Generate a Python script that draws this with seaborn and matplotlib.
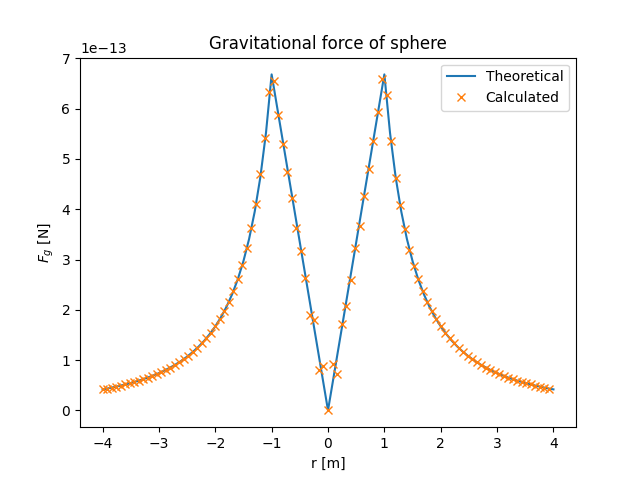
import numpy as np
import matplotlib
matplotlib.use("Agg")
import matplotlib.pyplot as plt
import seaborn as sns

# Theoretical curve (values in units of 1e-13 N)
r_theory = [-4.0, -3.9, -3.8, -3.7, -3.6, -3.5, -3.4, -3.3, -3.2, -3.1,
            -3.0, -2.9, -2.8, -2.7, -2.6, -2.5, -2.4, -2.3, -2.2, -2.1,
            -2.0, -1.9, -1.8, -1.7, -1.6, -1.5, -1.4, -1.3, -1.2, -1.1,
            -1.0, -0.9, -0.8, -0.7, -0.6, -0.5, -0.4, -0.3, -0.2, -0.1,
            0.0, 0.1, 0.2, 0.3, 0.4, 0.5, 0.6, 0.7, 0.8, 0.9,
            1.0, 1.1, 1.2, 1.3, 1.4, 1.5, 1.6, 1.7, 1.8, 1.9,
            2.0, 2.1, 2.2, 2.3, 2.4, 2.5, 2.6, 2.7, 2.8, 2.9,
            3.0, 3.1, 3.2, 3.3, 3.4, 3.5, 3.6, 3.7, 3.8, 3.9, 4.0]
F_theory = [0.418, 0.439, 0.463, 0.488, 0.515, 0.545, 0.578, 0.613, 0.652, 0.695,
            0.742, 0.794, 0.852, 0.916, 0.988, 1.069, 1.160, 1.263, 1.380, 1.515,
            1.670, 1.850, 2.062, 2.311, 2.609, 2.969, 3.408, 3.953, 4.639, 5.521,
            6.680, 6.012, 5.344, 4.676, 4.008, 3.340, 2.672, 2.004, 1.336, 0.668,
            0.0, 0.668, 1.336, 2.004, 2.672, 3.340, 4.008, 4.676, 5.344, 6.012,
            6.680, 5.521, 4.639, 3.953, 3.408, 2.969, 2.609, 2.311, 2.062, 1.850,
            1.670, 1.515, 1.380, 1.263, 1.160, 1.069, 0.988, 0.916, 0.852, 0.794,
            0.742, 0.695, 0.652, 0.613, 0.578, 0.545, 0.515, 0.488, 0.463, 0.439, 0.418]

# Calculated points (values in units of 1e-13 N)
r_calc = [-4.00, -3.92, -3.84, -3.76, -3.68, -3.60, -3.52, -3.44, -3.36, -3.28,
          -3.20, -3.12, -3.04, -2.96, -2.88, -2.80, -2.72, -2.64, -2.56, -2.48,
          -2.40, -2.32, -2.24, -2.16, -2.08, -2.00, -1.92, -1.84, -1.76, -1.68,
          -1.60, -1.52, -1.44, -1.36, -1.28, -1.20, -1.12, -1.04, -0.96, -0.88,
          -0.80, -0.72, -0.64, -0.56, -0.48, -0.40, -0.32, -0.24, -0.16, -0.08,
          0.00, 0.08, 0.16, 0.24, 0.32, 0.40, 0.48, 0.56, 0.64, 0.72,
          0.80, 0.88, 0.96, 1.04, 1.12, 1.20, 1.28, 1.36, 1.44, 1.52,
          1.60, 1.68, 1.76, 1.84, 1.92, 2.00, 2.08, 2.16, 2.24, 2.32,
          2.40, 2.48, 2.56, 2.64, 2.72, 2.80, 2.88, 2.96, 3.04, 3.12,
          3.20, 3.28, 3.36, 3.44, 3.52, 3.60, 3.68, 3.76, 3.84, 3.92]
F_calc = [0.418, 0.435, 0.453, 0.473, 0.493, 0.515, 0.539, 0.564, 0.592, 0.621,
          0.652, 0.686, 0.723, 0.762, 0.805, 0.852, 0.903, 0.958, 1.019, 1.086,
          1.160, 1.241, 1.331, 1.432, 1.544, 1.670, 1.812, 1.973, 2.157, 2.367,
          2.609, 2.90, 3.23, 3.63, 4.11, 4.69, 5.42, 6.33, 6.54, 5.88,
          5.30, 4.73, 4.23, 3.63, 3.16, 2.64, 1.90, 1.80, 0.81, 0.89,
          0.00, 0.93, 0.73, 1.72, 2.08, 2.60, 3.23, 3.67, 4.27, 4.79,
          5.35, 5.94, 6.58, 6.28, 5.35, 4.63, 4.08, 3.60, 3.19, 2.88,
          2.609, 2.367, 2.157, 1.973, 1.812, 1.670, 1.544, 1.432, 1.331, 1.241,
          1.160, 1.086, 1.019, 0.958, 0.903, 0.852, 0.805, 0.762, 0.723, 0.686,
          0.652, 0.621, 0.592, 0.564, 0.539, 0.515, 0.493, 0.473, 0.453, 0.435]

fig, ax = plt.subplots(figsize=(6.4, 4.8), dpi=100)

sns.lineplot(x=r_theory, y=np.array(F_theory) * 1e-13, ax=ax, color="C0",
             linewidth=1.5, label="Theoretical", sort=False, estimator=None)
sns.lineplot(x=r_calc, y=np.array(F_calc) * 1e-13, ax=ax, color="C1",
             linestyle="none", marker="x", markersize=6, markeredgewidth=1,
             markeredgecolor="C1", label="Calculated", sort=False, estimator=None)

ax.set_title("Gravitational force of sphere")
ax.set_xlabel("r [m]")
ax.set_ylabel("$F_g$ [N]")
ax.legend(loc="upper right")

plt.savefig("out.png", dpi=100)
